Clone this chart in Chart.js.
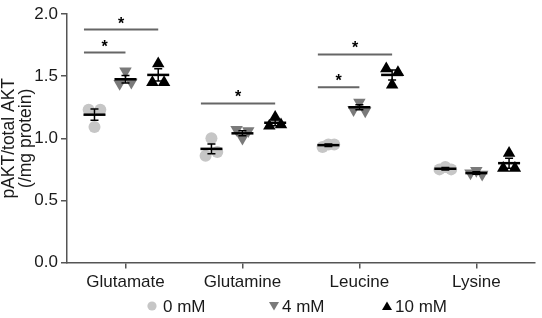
<!DOCTYPE html>
<html>
<head>
<meta charset="utf-8">
<script src="https://cdn.jsdelivr.net/npm/chart.js@4"></script>
<style>
  html, body { margin: 0; padding: 0; background: #fff; }
  #wrap { width: 542px; height: 318px; }
</style>
</head>
<body>
<div id="wrap"><canvas id="chart"></canvas></div>
<script>
// categories and dose groups
const categories = ['Glutamate', 'Glutamine', 'Leucine', 'Lysine'];
const doses = ['0 mM', '4 mM', '10 mM'];

// individual replicates, per category
const points0 = [[1.09, 1.23, 1.23], [1.00, 0.86, 0.89], [0.95, 0.93, 0.95], [0.77, 0.75, 0.75]];
const points4 = [[1.54, 1.44, 1.45], [1.00, 1.07, 1.06], [1.29, 1.23, 1.22], [0.74, 0.72, 0.71]];
const points10 = [[1.60, 1.45, 1.45], [1.17, 1.10, 1.11], [1.43, 1.56, 1.53], [0.88, 0.76, 0.76]];

// mean and SEM as drawn
const mean0 = [1.19, 0.915, 0.945, 0.755];
const sem0 = [0.045, 0.04, 0.01, 0.01];
const mean4 = [1.475, 1.04, 1.25, 0.72];
const sem4 = [0.03, 0.02, 0.02, 0.01];
const mean10 = [1.51, 1.125, 1.51, 0.80];
const sem10 = [0.05, 0.025, 0.04, 0.04];

const yTicks = [0, 0.5, 1.0, 1.5, 2.0];

// significance brackets: category, from dose, to dose, height
const sigCategory = [0, 0, 1, 2, 2];
const sigFrom = [0, 0, 0, 0, 0];
const sigTo = [2, 1, 2, 2, 1];
const sigY = [1.875, 1.69, 1.28, 1.675, 1.41];

const doseOffset = [-0.265, 0, 0.28];
const jitter = [0, -0.05, 0.05];
const colors = ['#c6c6c6', '#7a7a7a', '#000000'];
const FONT = '"Liberation Sans", Arial, sans-serif';

const allPoints = [points0, points4, points10];
const allMeans = [mean0, mean4, mean10];
const allSems = [sem0, sem4, sem10];

function groupX(c, d) {
    return c + 0.5 + doseOffset[d];
}

const datasets = [];
for (let d = 0; d < doses.length; d++) {
    const data = [];
    for (let c = 0; c < categories.length; c++) {
        for (let i = 0; i < allPoints[d][c].length; i++) {
            data.push({ x: groupX(c, d) + jitter[i], y: allPoints[d][c][i] });
        }
    }
    datasets.push({
        label: doses[d],
        data: data,
        backgroundColor: colors[d],
        borderColor: colors[d],
        borderWidth: 0,
        pointStyle: d == 0 ? 'circle' : 'triangle',
        rotation: d == 1 ? 180 : 0,
        pointRadius: d == 0 ? 6 : 7.2,
        showLine: false,
    });
}

function marker(ctx, style, x, y, r) {
    ctx.beginPath();
    if (style == 'circle') {
        ctx.arc(x, y, r, 0, Math.PI * 2);
    } else if (style == 'down') {
        ctx.moveTo(x - r, y - r * 0.8);
        ctx.lineTo(x + r, y - r * 0.8);
        ctx.lineTo(x, y + r * 0.9);
    } else {
        ctx.moveTo(x - r, y + r * 0.8);
        ctx.lineTo(x + r, y + r * 0.8);
        ctx.lineTo(x, y - r * 0.9);
    }
    ctx.closePath();
    ctx.fill();
}

// mean bars, error bars, significance marks and legend
const overlay = {
    id: 'overlay',
    afterDatasetsDraw(chart) {
        const ctx = chart.ctx;
        const xs = chart.scales.x;
        const ys = chart.scales.y;
        ctx.save();
        ctx.strokeStyle = '#000';
        for (let d = 0; d < doses.length; d++) {
            for (let c = 0; c < categories.length; c++) {
                const px = xs.getPixelForValue(groupX(c, d));
                const m = ys.getPixelForValue(allMeans[d][c]);
                const top = ys.getPixelForValue(allMeans[d][c] + allSems[d][c]);
                const bot = ys.getPixelForValue(allMeans[d][c] - allSems[d][c]);
                ctx.lineWidth = 1.5;
                ctx.beginPath();
                ctx.moveTo(px, top); ctx.lineTo(px, bot);
                ctx.moveTo(px - 4, top); ctx.lineTo(px + 4, top);
                ctx.moveTo(px - 4, bot); ctx.lineTo(px + 4, bot);
                ctx.stroke();
                ctx.lineWidth = 2.5;
                ctx.beginPath();
                ctx.moveTo(px - 11, m); ctx.lineTo(px + 11, m);
                ctx.stroke();
            }
        }
        ctx.strokeStyle = '#666';
        ctx.lineWidth = 2;
        ctx.fillStyle = '#000';
        ctx.font = 'bold 16px ' + FONT;
        ctx.textAlign = 'center';
        ctx.textBaseline = 'alphabetic';
        for (let k = 0; k < sigY.length; k++) {
            const x1 = xs.getPixelForValue(groupX(sigCategory[k], sigFrom[k]) - 0.09);
            const x2 = xs.getPixelForValue(groupX(sigCategory[k], sigTo[k]));
            const y = ys.getPixelForValue(sigY[k]);
            ctx.beginPath();
            ctx.moveTo(x1, y); ctx.lineTo(x2, y);
            ctx.stroke();
            ctx.fillText('*', (x1 + x2) / 2, y - 1);
        }

        // legend row under the x axis labels
        const legendY = chart.height - 12;
        const legendX = [152, 274, 387];
        const legendStyle = ['circle', 'down', 'up'];
        ctx.font = '17px ' + FONT;
        ctx.textAlign = 'left';
        ctx.textBaseline = 'middle';
        for (let d = 0; d < doses.length; d++) {
            ctx.fillStyle = colors[d];
            marker(ctx, legendStyle[d], legendX[d], legendY, d == 0 ? 4.6 : 5);
            ctx.fillStyle = '#1a1a1a';
            ctx.fillText(doses[d], legendX[d] + (d == 0 ? 11 : 8), legendY + 1);
        }
        ctx.restore();
    }
};

const ctx = document.getElementById('chart');
new Chart(ctx, {
    type: 'scatter',
    data: { datasets: datasets },
    options: {
        responsive: true,
        maintainAspectRatio: false,
        animation: false,
        layout: { padding: { top: 14, right: 1, left: 0, bottom: 21 } },
        plugins: {
            tooltip: { enabled: false },
            legend: { display: false },
        },
        scales: {
            x: {
                type: 'linear',
                min: 0,
                max: 4,
                afterBuildTicks: function (scale) {
                    scale.ticks = categories.map(function (n, i) { return { value: i + 0.5 }; });
                },
                ticks: {
                    color: '#1a1a1a',
                    padding: 4,
                    font: { family: FONT, size: 17 },
                    callback: function (value) {
                        return categories[Math.floor(value)];
                    },
                },
                grid: { drawOnChartArea: false, drawTicks: true, tickLength: 6, color: '#555', lineWidth: 1.5 },
                border: { color: '#555', width: 1.5 },
            },
            y: {
                min: 0,
                max: 2,
                afterBuildTicks: function (scale) {
                    scale.ticks = yTicks.map(function (v) { return { value: v }; });
                },
                afterFit: function (scale) {
                    scale.width = 67;
                },
                ticks: {
                    color: '#1a1a1a',
                    padding: 3,
                    font: { family: FONT, size: 17 },
                    callback: function (value) {
                        return value.toFixed(1);
                    },
                },
                title: {
                    display: true,
                    text: ['pAKT/total AKT', '(/mg protein)'],
                    color: '#1a1a1a',
                    padding: { top: 1, bottom: 0 },
                    font: { family: FONT, size: 17.5, lineHeight: 0.97 },
                },
                grid: { drawOnChartArea: false, drawTicks: true, tickLength: 6, color: '#555', lineWidth: 1.5 },
                border: { color: '#555', width: 1.5 },
            },
        },
    },
    plugins: [overlay],
});
</script>
</body>
</html>
